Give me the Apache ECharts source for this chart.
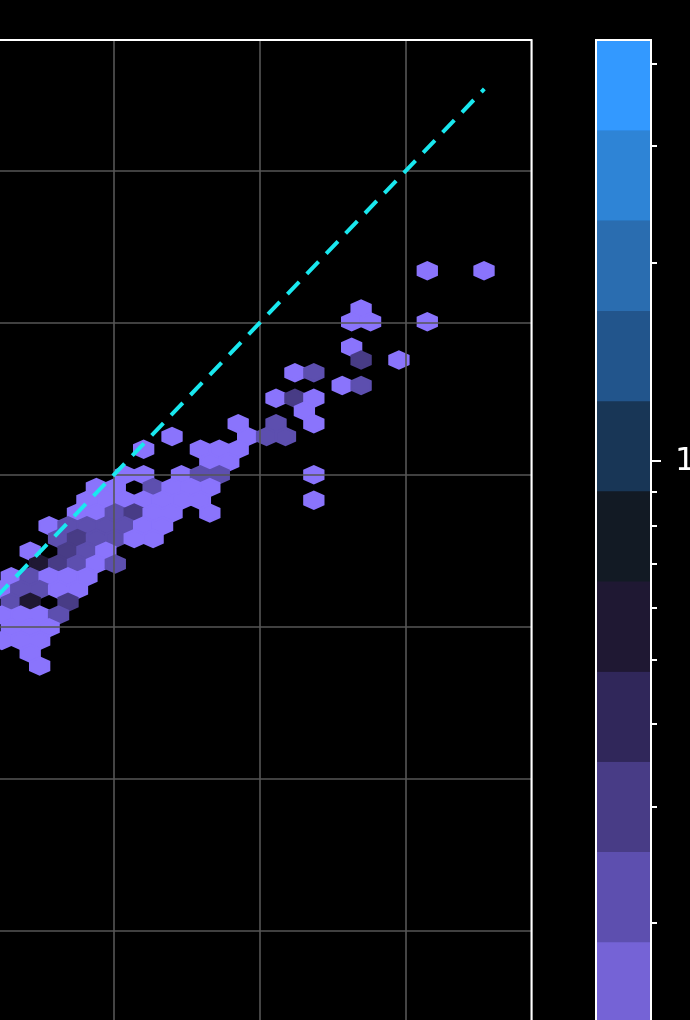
<!DOCTYPE html>
<html><head><meta charset="utf-8">
<script src="https://cdn.jsdelivr.net/npm/echarts/dist/echarts.min.js"></script>
<style>html,body{margin:0;padding:0;background:#000;overflow:hidden;width:690px;height:1020px;position:relative;}
#c{position:absolute;left:-32px;top:0;width:722px;height:1125px;}</style>
</head><body><div id="c"></div>
<script>
// ---- axes (data units) ----
const xRange = [40, 78.58];
const yRange = [10, 78.57];
const gridInterval = 10;
// identity (y = x) reference line
const identityLine = [[30, 30], [75.35, 75.35]];
// ---- hexbin lattice (data units): centre = origin + (col*stepX/2, row*stepY/2) ----
const binOrigin = [66.267, 60.046];
const binStep = [1.2946, 1.6766];
const hexCol = [
  8,14, 1, 0,2,8, 0, 1,5, -6,-4, -1,1, -8,-6,-4, -5, -12,-8,-4,
  -19,-11,-9,-7, -22,-16,-14,-12, -15,-13,
  -24,-22,-18,-16,-14,-4,
  -27,-25,-21,-19,-17,-15,
  -28,-26,-24,-22,-20,-18,-16,-4,
  -29,-27,-25,-23,-21,-19,-15,
  -32,-30,-28,-26,-24,-22,-20,
  -31,-29,-27,-25,-23,-21,
  -34,-30,-28,-26,
  -33,-31,-29,-27,-25,
  -36,-34,-32,-30,-28,
  -37,-35,-33,-31,-29,
  -36,-34,-30,
  -37,-35,-33,-31,
  -36,-34,-32,
  -37,-35,-33,
  -34,
  -33];
const hexRow = [
  4,4, 1, 0,0,0, -2, -3,-3, -4,-4, -5,-5, -6,-6,-6, -7, -8,-8,-8,
  -9,-9,-9,-9, -10,-10,-10,-10, -11,-11,
  -12,-12,-12,-12,-12,-12,
  -13,-13,-13,-13,-13,-13,
  -14,-14,-14,-14,-14,-14,-14,-14,
  -15,-15,-15,-15,-15,-15,-15,
  -16,-16,-16,-16,-16,-16,-16,
  -17,-17,-17,-17,-17,-17,
  -18,-18,-18,-18,
  -19,-19,-19,-19,-19,
  -20,-20,-20,-20,-20,
  -21,-21,-21,-21,-21,
  -22,-22,-22,
  -23,-23,-23,-23,
  -24,-24,-24,
  -25,-25,-25,
  -26,
  -27];
const hexCount = [
  1,1, 1, 1,1,1, 1, 3,1, 1,2, 1,2, 1,3,1, 1, 1,2,1,
  1,1,2,2, 1,1,1,1, 1,1,
  1,1,1,2,2,1,
  1,1,2,1,1,1,
  1,1,1,1,1,1,1,1,
  1,1,2,3,1,1,1,
  1,2,2,2,2,1,1,
  2,3,2,2,1,1,
  1,3,2,1,
  5,3,2,1,2,
  1,2,1,1,1,
  1,2,2,1,1,
  2,5,3,
  1,1,1,2,
  1,1,1,
  1,1,1,
  1,
  1];
// ---- colour bar (log scale) ----
const cbarRange = [1, 43.4];
const cbarColors = ['#8a74fc','#7563d6','#5d4faf','#483c86','#30275a','#1f1833',
  '#121a24','#183656','#22558c','#2a6db0','#2e84d6','#3399ff'];
const cbarMajorTicks = [10];
const cbarMinorTicks = [2,3,4,5,6,7,8,9,20,30,40];
const cbarMajorLabels = ['10¹'];

const L0 = Math.log10(cbarRange[0]), L1 = Math.log10(cbarRange[1]);
function colorFor(n) {
  let k = Math.floor((Math.log10(n) - L0) / (L1 - L0) * cbarColors.length);
  k = Math.max(0, Math.min(cbarColors.length - 1, k));
  return cbarColors[k];
}
const hexData = hexCol.map((c, i) => [binOrigin[0] + c * binStep[0] / 2, binOrigin[1] + hexRow[i] * binStep[1] / 2, hexCount[i]]);
const bandData = cbarColors.map((col, i) => [i, L0 + (L1 - L0) * i / cbarColors.length, L0 + (L1 - L0) * (i + 1) / cbarColors.length]);

const chart = echarts.init(document.getElementById('c'), null, {renderer: 'canvas'});
const font = 'DejaVu Sans';
chart.setOption({
  backgroundColor: '#000',
  animation: false,
  grid: [
    {left: 0, right: 158.5, top: 40, bottom: 42.1, show: true, borderColor: '#fff', borderWidth: 2, z: 8, outerBoundsMode: 'none', containLabel: false},
    {left: 628, width: 55, top: 40, bottom: 3, show: true, borderColor: '#fff', borderWidth: 2, z: 8, outerBoundsMode: 'none', containLabel: false}
  ],
  xAxis: [
    {gridIndex: 0, type: 'value', min: xRange[0], max: xRange[1], interval: gridInterval, z: 5,
     axisLine: {show: false, onZero: false}, axisTick: {show: false}, axisLabel: {show: false},
     splitLine: {show: true, lineStyle: {color: '#565656', width: 1.6}}},
    {gridIndex: 1, type: 'value', min: 0, max: 1, show: false, axisLine: {onZero: false}}
  ],
  yAxis: [
    {gridIndex: 0, type: 'value', min: yRange[0], max: yRange[1], interval: gridInterval, z: 5,
     axisLine: {show: false, onZero: false}, axisTick: {show: false}, axisLabel: {show: false},
     splitLine: {show: true, lineStyle: {color: '#565656', width: 1.6}}},
    {gridIndex: 1, type: 'value', min: L0, max: L1, position: 'right', offset: 0, z: 9,
     axisLine: {show: false, onZero: false}, splitLine: {show: false},
     axisTick: {show: true, inside: false, length: 10, lineStyle: {color: '#fff', width: 2}, customValues: cbarMajorTicks.map(Math.log10)},
     axisLabel: {show: true, inside: false, color: '#fff', fontSize: 32, fontFamily: font, margin: 24,
       customValues: cbarMajorTicks.map(Math.log10),
       formatter: v => cbarMajorLabels[cbarMajorTicks.findIndex(t => Math.abs(Math.log10(t) - v) < 1e-6)] || ''}},
    {gridIndex: 1, type: 'value', min: L0, max: L1, position: 'right', offset: 0, z: 9,
     axisLine: {show: false, onZero: false}, splitLine: {show: false}, axisLabel: {show: false},
     axisTick: {show: true, inside: false, length: 6, lineStyle: {color: '#fff', width: 2}, customValues: cbarMinorTicks.map(Math.log10)}}
  ],
  series: [
    {type: 'custom', xAxisIndex: 0, yAxisIndex: 0, clip: true, z: 2, data: hexData,
     renderItem: (params, api) => {
       const cx = api.value(0), cy = api.value(1), n = api.value(2);
       const hx = binStep[0] / 2, hy = binStep[1] / 6, hz = binStep[1] / 3;
       const pts = [[cx + hx, cy - hy], [cx + hx, cy + hy], [cx, cy + hz], [cx - hx, cy + hy], [cx - hx, cy - hy], [cx, cy - hz]].map(p => api.coord(p));
       const col = colorFor(n);
       return {type: 'polygon', shape: {points: pts}, style: {fill: col, stroke: col, lineWidth: 2.4}};
     }},
    {type: 'line', xAxisIndex: 0, yAxisIndex: 0, data: identityLine, showSymbol: false, z: 7, silent: true,
     lineStyle: {color: '#19e8ef', width: 4, type: [17, 11], cap: 'butt'}},
    {type: 'custom', xAxisIndex: 1, yAxisIndex: 1, clip: true, z: 2, data: bandData,
     renderItem: (params, api) => {
       const i = api.value(0);
       const p0 = api.coord([0, api.value(1)]), p1 = api.coord([1, api.value(2)]);
       return {type: 'rect', shape: {x: p0[0], y: p1[1], width: p1[0] - p0[0], height: p0[1] - p1[1] + 0.5},
               style: {fill: cbarColors[i]}};
     }}
  ]
});
</script></body></html>
